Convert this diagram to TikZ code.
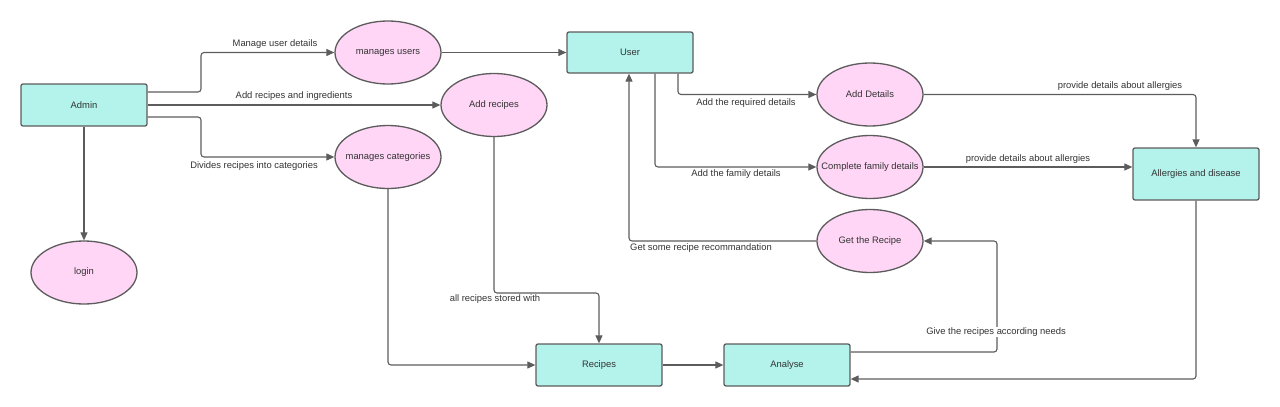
\documentclass[tikz,border=0pt]{standalone}
\usepackage{fontspec}
\setmainfont{Liberation Sans}
\usetikzlibrary{shapes.geometric,arrows.meta}
\definecolor{boxfill}{HTML}{B3F3EB}
\definecolor{ellfill}{HTML}{FFD6F6}
\definecolor{edgecol}{HTML}{5C5C5C}
\definecolor{txtcol}{HTML}{333333}
\newcommand{\zw}[1]{\makebox[0pt]{#1}}
\begin{document}
\begin{tikzpicture}[x=1pt,y=-1pt,
  every node/.style={font=\fontsize{9.4}{11}\selectfont, text=txtcol},
  boxn/.style={rectangle, rounded corners=2pt, draw=edgecol, line width=1.3pt, fill=boxfill, minimum width=126pt, minimum height=42pt, inner sep=0pt},
  elln/.style={ellipse, draw=edgecol, line width=1.3pt, fill=ellfill, minimum width=106pt, minimum height=63pt, inner sep=0pt},
  lbl/.style={inner sep=1pt},
  arr/.style={draw=edgecol, line width=1.1pt, rounded corners=3pt, -{Triangle[length=8pt,width=7pt]}}]
\useasboundingbox (0,0) rectangle (1280,407);
% boxes
\node[boxn] (admin) at (84,105) {Admin};
\node[boxn, minimum height=41pt] (user) at (630,52.5) {User};
\node[boxn, minimum height=52pt] (allerg) at (1196,174) {Allergies and disease};
\node[boxn] (recipes) at (599,365) {Recipes};
\node[boxn] (analyse) at (787,365) {Analyse};
% ellipses
\node[elln] (musers) at (388,52.5) {\zw{manages users}};
\node[elln] (addrec) at (494,105) {\zw{Add recipes}};
\node[elln] (mcat) at (388,157) {\zw{manages categories}};
\node[elln] (login) at (84,272.5) {\zw{login}};
\node[elln] (adddet) at (870,94.5) {\zw{Add Details}};
\node[elln] (family) at (870,167) {\zw{Complete family details}};
\node[elln] (getrec) at (870,241) {\zw{Get the Recipe}};
% connectors
\draw[arr] (admin.east |- 0,92) -- (201,92) |- (musers.west);
\draw[arr] (admin.east) -- (addrec.west);
\draw[arr] (admin.east |- 0,117) -- (201,117) |- (mcat.west);
\draw[arr] (admin.south) -- (login.north);
\draw[arr] (musers.east) -- (user.west);
\draw[arr] (user.south -| 678,0) |- (adddet.west);
\draw[arr] (user.south -| 655,0) |- (family.west);
\draw[arr] (adddet.east) -| (allerg.north);
\draw[arr] (family.east) -- (allerg.west |- family.east);
\draw[arr] (getrec.west) -| (user.south -| 629,0);
\draw[arr] (addrec.south) -- (494,293) -| (recipes.north);
\draw[arr] (mcat.south) |- (recipes.west);
\draw[arr] (recipes.east) -- (analyse.west);
\draw[arr] (analyse.east |- 0,352) -- (997,352) |- (getrec.east);
\draw[arr] (allerg.south) |- (analyse.east |- 0,379);
% labels
\node[lbl] (l1) at (275,44) {Manage user details};
\node[lbl] (l2) at (294,96) {Add recipes and ingredients};
\node[lbl] (l3) at (254,166) {Divides recipes into categories};
\node[lbl] (l4) at (746,103) {Add the required details};
\node[lbl] (l5) at (736,174) {Add the family details};
\node[lbl] (l6) at (1120,86) {provide details about allergies};
\node[lbl] (l7) at (1028,159) {provide details about allergies};
\node[lbl] (l8) at (701,248) {Get some recipe recommandation};
\node[lbl] (l9) at (495,299) {all recipes stored with};
\node[lbl, fill=white] (l10) at (996,332) {Give the recipes according needs};
\end{tikzpicture}
\end{document}
